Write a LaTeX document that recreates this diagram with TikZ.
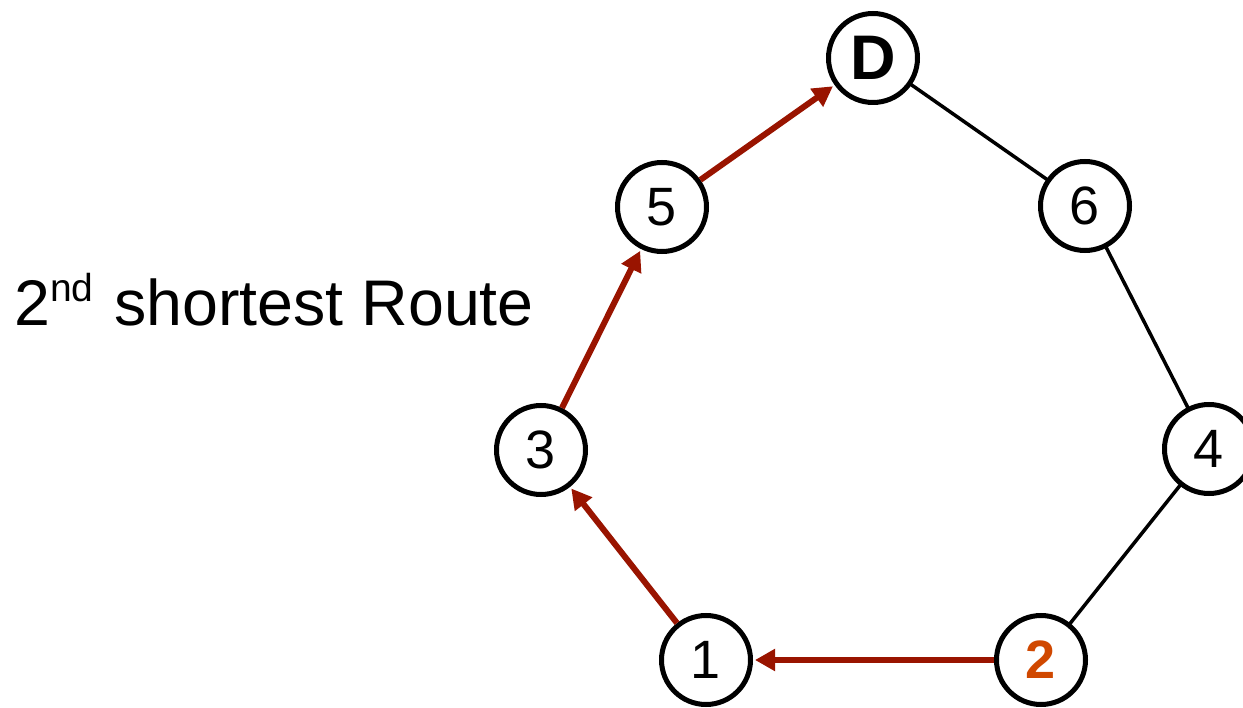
\documentclass[tikz,border=0pt]{standalone}
\usepackage{fontspec}
\setmainfont{Liberation Sans}
\usetikzlibrary{arrows.meta}
\definecolor{routered}{RGB}{153,20,0}
\definecolor{startorange}{RGB}{208,72,0}
\newcommand{\ordsup}[1]{\raisebox{24pt}{\fontsize{39}{44}\selectfont #1}}
\begin{document}
\begin{tikzpicture}[x=1pt,y=-1pt,
  vertex/.style={circle,draw=black,line width=5pt,minimum size=89pt,inner sep=0pt,fill=white,
    font=\fontsize{54}{60}\selectfont},
  plain/.style={draw=black,line width=3.5pt},
  route/.style={draw=routered,line width=6pt,-{Triangle[length=20pt,width=21pt]},shorten >=2pt}]
\path[fill=white] (0,0) rectangle (1243,708);
\useasboundingbox (0,0) rectangle (1243,708);

% plain edges first, so the circles cover their ends
\coordinate (cD) at (873,58);
\coordinate (c6) at (1085,206);
\coordinate (c4) at (1209,449);
\coordinate (c2) at (1041,660);
\draw[plain] (cD) -- (c6) -- (c4) -- (c2);

\node[vertex,font=\fontsize{63}{70}\selectfont\bfseries] (D) at (cD) {D};
\node[vertex] (n5) at (662,207) {5};
\node[vertex] (n6) at (c6) {6};
\node[vertex] (n3) at (541,450) {3};
\node[vertex] (n4) at (c4) {4};
\node[vertex] (n1) at (706,660) {1};
\node[vertex,font=\fontsize{54}{60}\selectfont\bfseries,text=startorange] (n2) at (c2) {2};

% route taken
\draw[route] (n2) -- (n1);
\draw[route] (n1) -- (n3);
\draw[route] (n3) -- (n5);
\draw[route] (n5) -- (D);

\node[anchor=base west,inner sep=0pt,font=\fontsize{64.5}{70}\selectfont] (title) at (14,326)
  {2\ordsup{nd}\hspace{3pt} shortest Route};
\end{tikzpicture}
\end{document}
